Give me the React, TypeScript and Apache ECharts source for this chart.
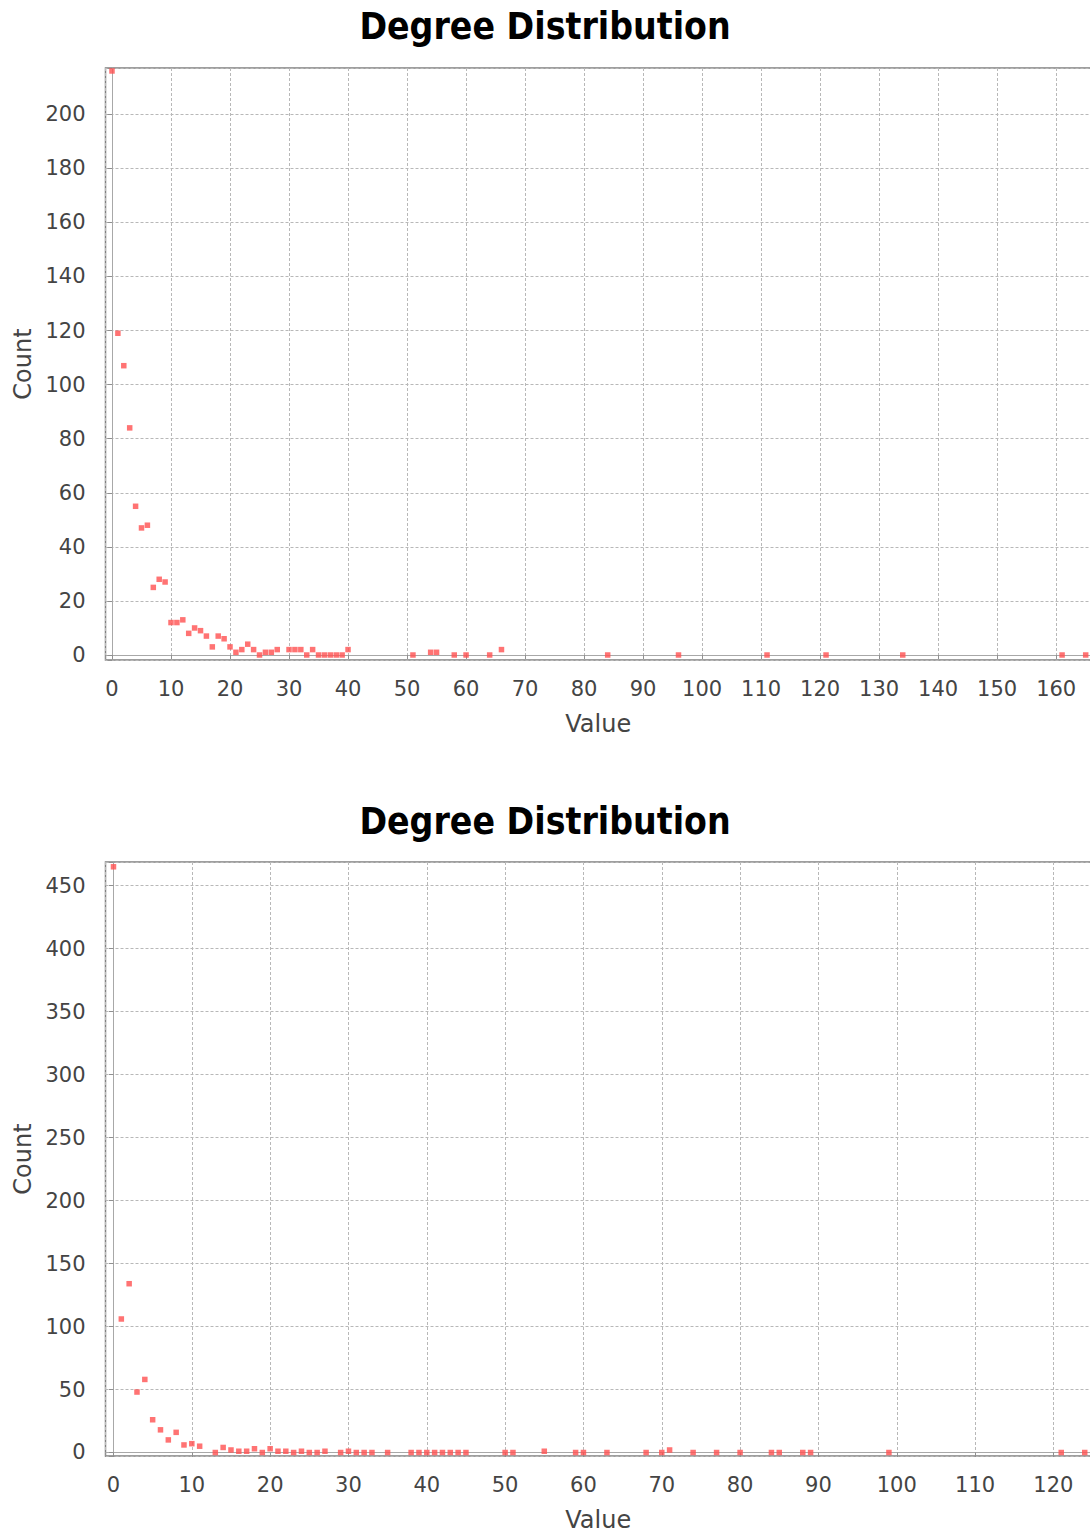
import React, { useEffect, useRef } from 'react';
import * as echarts from 'echarts';

// ---- Data ----
const chartTitle = 'Degree Distribution';
const xAxisName = 'Value';
const yAxisName = 'Count';

const degreesTop = [
  0, 1, 2, 3, 4, 5, 6, 7, 8, 9, 10, 11, 12, 13, 14, 15, 16, 17, 18, 19, 20, 21, 22, 23, 24, 25, 26, 27, 28,
  30, 31, 32, 33, 34, 35, 36, 37, 38, 39, 40,
  51, 54, 55, 58, 60, 64, 66,
  84, 96, 111, 121, 134, 161, 165,
];
const countsTop = [
  216, 119, 107, 84, 55, 47, 48, 25, 28, 27, 12, 12, 13, 8, 10, 9, 7, 3, 7, 6, 3, 1, 2, 4, 2, 0, 1, 1, 2,
  2, 2, 2, 0, 2, 0, 0, 0, 0, 0, 2,
  0, 1, 1, 0, 0, 0, 2,
  0, 0, 0, 0, 0, 0, 0,
];

const degreesBottom = [
  0, 1, 2, 3, 4, 5, 6, 7, 8, 9, 10, 11,
  13, 14, 15, 16, 17, 18, 19, 20, 21, 22, 23, 24, 25, 26, 27,
  29, 30, 31, 32, 33, 35, 38, 39, 40, 41, 42, 43, 44, 45,
  50, 51, 55, 59, 60, 63, 68, 70, 71, 74, 77, 80, 84, 85, 88, 89, 99, 121, 124,
];
const countsBottom = [
  465, 106, 134, 48, 58, 26, 18, 10, 16, 6, 7, 5,
  0, 4, 2, 1, 1, 3, 0, 3, 1, 1, 0, 1, 0, 0, 1,
  0, 1, 0, 0, 0, 0, 0, 0, 0, 0, 0, 0, 0, 0,
  0, 0, 1, 0, 0, 0, 0, 0, 2, 0, 0, 0, 0, 0, 0, 0, 0, 0, 0,
];

// axis ranges and tick steps
const xRangeTop = [-1.1, 165.9];
const yRangeTop = [-1.85, 217.1];
const xStepTop = 10;
const yStepTop = 20;
const xRangeBottom = [-1.02, 124.8];
const yRangeBottom = [-2.78, 468.8];
const xStepBottom = 10;
const yStepBottom = 50;

const FONT = '"DejaVu Sans", sans-serif';
const TITLE_FONT = '"DejaVu Sans Condensed", "DejaVu Sans", sans-serif';
const POINT_COLOR = '#ff5050';
const GRID_LINE = '#b8b8b8';
const LABEL_COLOR = '#444444';

const fmt = (step: number) => (v: number) => {
  const r = Math.round(v / step) * step;
  return Math.abs(v - r) < 1e-6 ? String(r) : '';
};

const xAxisCfg = (gridIndex: number, range: number[], step: number) => ({
  type: 'value',
  gridIndex,
  min: range[0],
  max: range[1],
  minInterval: step,
  maxInterval: step,
  position: 'bottom',
  offset: 7,
  name: xAxisName,
  nameLocation: 'middle',
  nameGap: 45,
  nameTextStyle: { fontFamily: FONT, fontSize: 24, color: LABEL_COLOR },
  axisLine: { show: true, lineStyle: { color: '#a8a8a8', width: 1 } },
  axisTick: { show: true, length: 4.5, lineStyle: { color: '#909090', width: 1 } },
  axisLabel: { fontFamily: FONT, fontSize: 21, color: LABEL_COLOR, margin: 11, formatter: fmt(step) },
  splitLine: { show: true, lineStyle: { color: GRID_LINE, width: 1, type: [3, 2] } },
});

const yAxisCfg = (gridIndex: number, range: number[], step: number) => ({
  type: 'value',
  gridIndex,
  min: range[0],
  max: range[1],
  minInterval: step,
  maxInterval: step,
  position: 'left',
  offset: 6,
  name: yAxisName,
  nameLocation: 'middle',
  nameGap: 62,
  nameTextStyle: { fontFamily: FONT, fontSize: 24, color: LABEL_COLOR },
  axisLine: { show: true, lineStyle: { color: '#a8a8a8', width: 1 } },
  axisTick: { show: true, length: 4.5, lineStyle: { color: '#909090', width: 1 } },
  axisLabel: { fontFamily: FONT, fontSize: 21, color: LABEL_COLOR, margin: 14, formatter: fmt(step) },
  splitLine: { show: true, lineStyle: { color: GRID_LINE, width: 1, type: [3, 2] } },
});

const gridCfg = (top: number, height: number) => ({
  left: 105.5,
  right: -1,
  top,
  height,
  containLabel: false,
  outerBoundsMode: 'none',
  show: true,
  backgroundColor: '#ffffff',
  borderColor: '#808080',
  borderWidth: 1.5,
});

const titleCfg = (top: number) => ({
  text: chartTitle,
  left: 'center',
  top,
  padding: [0, 0, 0, 17],
  textStyle: { fontFamily: TITLE_FONT, fontWeight: 'bold', fontSize: 37, color: '#000000' },
});

const scatterCfg = (idx: number, xs: number[], ys: number[]) => ({
  type: 'scatter',
  xAxisIndex: idx,
  yAxisIndex: idx,
  symbol: 'rect',
  symbolSize: 5.5,
  itemStyle: { color: POINT_COLOR },
  data: xs.map((x, i) => [x, ys[i]]),
});

export default function App() {
  const ref = useRef<HTMLDivElement>(null);
  useEffect(() => {
    if (!ref.current) return;
    const chart = echarts.init(ref.current, undefined, { renderer: 'svg' });
    chart.setOption({
      animation: false,
      backgroundColor: '#ffffff',
      title: [titleCfg(8), titleCfg(803)],
      grid: [gridCfg(68, 592), gridCfg(862, 594)],
      xAxis: [xAxisCfg(0, xRangeTop, xStepTop), xAxisCfg(1, xRangeBottom, xStepBottom)],
      yAxis: [yAxisCfg(0, yRangeTop, yStepTop), yAxisCfg(1, yRangeBottom, yStepBottom)],
      series: [scatterCfg(0, degreesTop, countsTop), scatterCfg(1, degreesBottom, countsBottom)],
    });
    return () => chart.dispose();
  }, []);
  return (
    <div
      ref={ref}
      style={{ position: 'absolute', left: 0, top: 0, width: 1090, height: 1533 }}
    />
  );
}
